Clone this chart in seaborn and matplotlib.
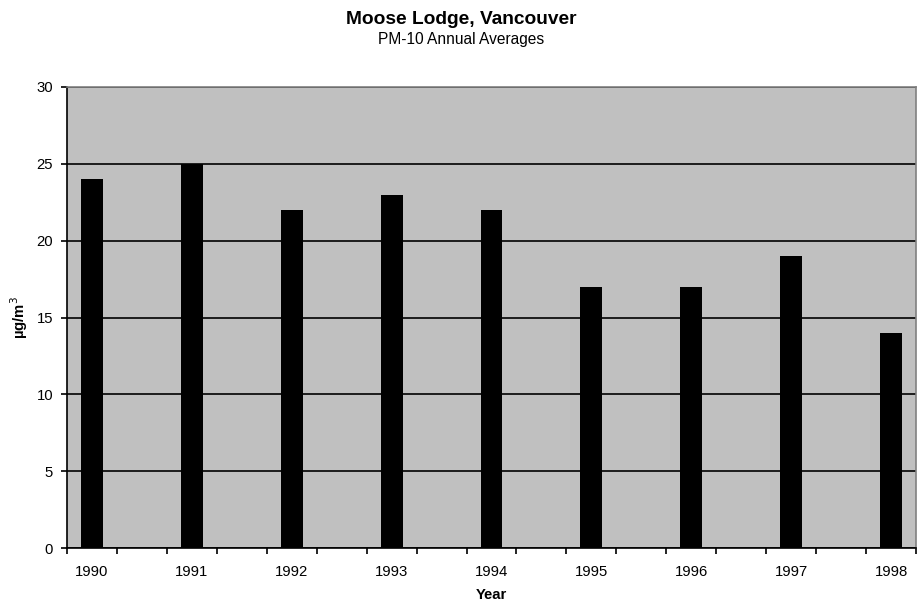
import matplotlib
matplotlib.use('Agg')
import matplotlib.pyplot as plt
from matplotlib.ticker import FixedLocator
import seaborn as sns
import pandas as pd

years = ['1990', '1991', '1992', '1993', '1994', '1995', '1996', '1997', '1998']
pm10 = [24, 25, 22, 23, 22, 17, 17, 19, 14]

sns.set_style('white')
plt.rcParams['font.family'] = ['Liberation Sans', 'DejaVu Sans']
plt.rcParams['text.color'] = 'black'
plt.rcParams['axes.labelcolor'] = 'black'
plt.rcParams['xtick.color'] = 'black'
plt.rcParams['ytick.color'] = 'black'

# Excel chart had an empty category between each year
pos = [2 * i for i in range(len(years))]
df = pd.DataFrame({'pos': pos, 'value': pm10})

fig = plt.figure(figsize=(9.17, 6.05), dpi=100)
ax = fig.add_axes([67 / 917, 57 / 605, 849 / 917, 461 / 605])
ax.set_facecolor('#C0C0C0')

sns.barplot(data=df, x='pos', y='value', native_scale=True, width=0.22,
            color='black', edgecolor='black', linewidth=0, saturation=1, ax=ax)

ax.set_xlim(-0.5, 2 * len(years) - 1.5)
ax.set_ylim(0, 30)
ax.set_yticks(range(0, 31, 5))
ax.yaxis.grid(True, color='black', linewidth=1.2)
ax.set_axisbelow(True)

ax.set_xticks(pos)
ax.set_xticklabels(years)
ax.xaxis.set_minor_locator(FixedLocator([p - 0.5 for p in range(2 * len(years))]))
ax.tick_params(axis='x', which='major', length=0, pad=12, labelsize=10.7)
ax.tick_params(axis='x', which='minor', length=4, width=1.2, color='black', direction='out', bottom=True)
ax.tick_params(axis='y', length=4, width=1.2, color='black', direction='out', pad=6, labelsize=10.7, left=True)

for s in ['left', 'bottom']:
    ax.spines[s].set_color('black')
    ax.spines[s].set_linewidth(1.2)
for s in ['top', 'right']:
    ax.spines[s].set_color('#808080')
    ax.spines[s].set_linewidth(1.2)

ax.set_xlabel('Year', fontsize=10.7, fontweight='bold', labelpad=7)
ax.set_ylabel('µg/m$^3$', fontsize=10.7, fontweight='bold', labelpad=5)

fig.text(0.503, 0.982, 'Moose Lodge, Vancouver', ha='center', va='top', fontsize=13.8, fontweight='bold')
fig.text(0.503, 0.947, 'PM-10 Annual Averages', ha='center', va='top', fontsize=11.2)

fig.savefig('out.png', dpi=100)
